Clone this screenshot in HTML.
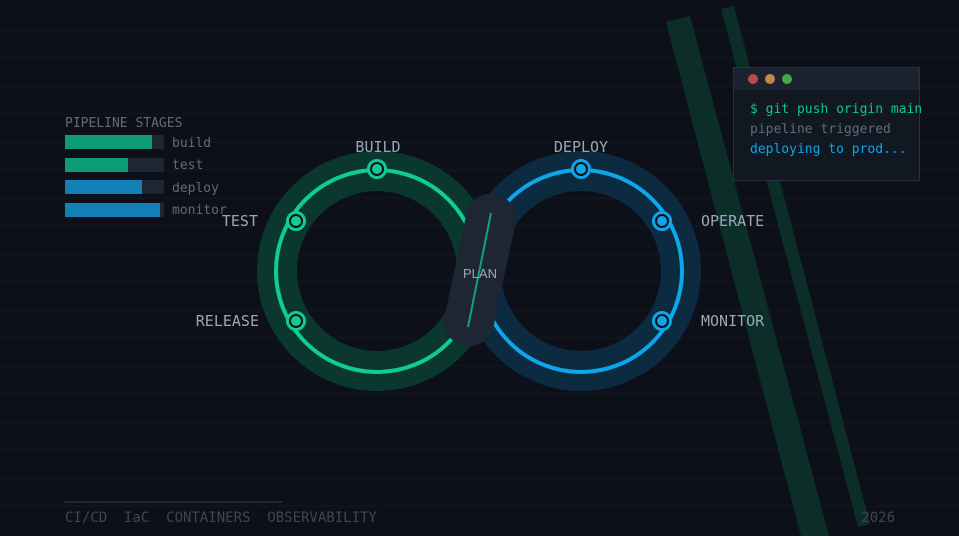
<!DOCTYPE html>
<html><head><meta charset="utf-8"><style>
html,body{margin:0;padding:0;background:#0d1018;}
svg{display:block}
text{white-space:pre}
</style></head><body>
<svg width="959" height="536" viewBox="0 0 959 536" xmlns="http://www.w3.org/2000/svg" xml:space="preserve">
<rect width="959" height="536" fill="#0d1018"/>
<g stroke="#121820" stroke-width="1">
<line x1="0" y1="30" x2="959" y2="30"/><line x1="0" y1="58" x2="959" y2="58"/><line x1="0" y1="86" x2="959" y2="86"/><line x1="0" y1="114" x2="959" y2="114"/><line x1="0" y1="142" x2="959" y2="142"/><line x1="0" y1="170" x2="959" y2="170"/><line x1="0" y1="198" x2="959" y2="198"/><line x1="0" y1="226" x2="959" y2="226"/><line x1="0" y1="254" x2="959" y2="254"/><line x1="0" y1="282" x2="959" y2="282"/><line x1="0" y1="310" x2="959" y2="310"/><line x1="0" y1="338" x2="959" y2="338"/><line x1="0" y1="366" x2="959" y2="366"/><line x1="0" y1="394" x2="959" y2="394"/><line x1="0" y1="422" x2="959" y2="422"/><line x1="0" y1="450" x2="959" y2="450"/><line x1="0" y1="478" x2="959" y2="478"/><line x1="0" y1="506" x2="959" y2="506"/>
</g>
<polygon points="666,22 690,16 829,536 801,536" fill="#0b2f28"/>
<polygon points="721,9 734,6 870,524 858,527" fill="#0b2f28"/>
<circle cx="377" cy="271" r="100" fill="none" stroke="#0b382e" stroke-width="40"/>
<circle cx="581" cy="271" r="100" fill="none" stroke="#0c2a40" stroke-width="40"/>
<circle cx="377" cy="271" r="101" fill="none" stroke="#10cc94" stroke-width="4"/>
<circle cx="581" cy="271" r="101" fill="none" stroke="#0ea5e9" stroke-width="4"/>
<g transform="translate(480,270) rotate(12)">
<rect x="-25" y="-77" width="50" height="154" rx="24" fill="#1e2634"/>
</g>
<line x1="491" y1="213" x2="468" y2="327" stroke="#10a37a" stroke-width="2"/>
<text x="480" y="278" fill="#9aa7b8" font-family="Liberation Sans, sans-serif" font-size="13" text-anchor="middle">PLAN</text>
<g stroke-width="3">
<circle cx="377" cy="169" r="8.5" fill="#0d1018" stroke="#10cc94"/><circle cx="377" cy="169" r="5" fill="#10cc94" stroke="none"/>
<circle cx="296" cy="221" r="8.5" fill="#0d1018" stroke="#10cc94"/><circle cx="296" cy="221" r="5" fill="#10cc94" stroke="none"/>
<circle cx="296" cy="321" r="8.5" fill="#0d1018" stroke="#10cc94"/><circle cx="296" cy="321" r="5" fill="#10cc94" stroke="none"/>
<circle cx="581" cy="169" r="8.5" fill="#0d1018" stroke="#0ea5e9"/><circle cx="581" cy="169" r="5" fill="#0ea5e9" stroke="none"/>
<circle cx="662" cy="221" r="8.5" fill="#0d1018" stroke="#0ea5e9"/><circle cx="662" cy="221" r="5" fill="#0ea5e9" stroke="none"/>
<circle cx="662" cy="321" r="8.5" fill="#0d1018" stroke="#0ea5e9"/><circle cx="662" cy="321" r="5" fill="#0ea5e9" stroke="none"/>
</g>
<g font-family="'DejaVu Sans Mono', 'Liberation Mono', monospace" font-size="15" fill="#9aa7b8">
<text x="378" y="152" text-anchor="middle">BUILD</text>
<text x="258" y="226" text-anchor="end">TEST</text>
<text x="259" y="326" text-anchor="end">RELEASE</text>
<text x="581" y="152" text-anchor="middle">DEPLOY</text>
<text x="701" y="226">OPERATE</text>
<text x="701" y="326">MONITOR</text>
</g>
<g font-family="'DejaVu Sans Mono', 'Liberation Mono', monospace" font-size="13" fill="#5f6b7c">
<text x="65" y="127">PIPELINE STAGES</text>
<text x="172" y="147">build</text>
<text x="172" y="169">test</text>
<text x="172" y="192">deploy</text>
<text x="172" y="214">monitor</text>
</g>
<rect x="65" y="135" width="99" height="14" fill="#1e2634"/><rect x="65" y="135" width="87" height="14" fill="#0e9c78"/>
<rect x="65" y="158" width="99" height="14" fill="#1e2634"/><rect x="65" y="158" width="63" height="14" fill="#0e9c78"/>
<rect x="65" y="180" width="99" height="14" fill="#1e2634"/><rect x="65" y="180" width="77" height="14" fill="#1480b8"/>
<rect x="65" y="203" width="99" height="14" fill="#1e2634"/><rect x="65" y="203" width="95" height="14" fill="#1480b8"/>
<rect x="733.5" y="67.5" width="186" height="113" fill="#111822" stroke="#283140"/>
<rect x="734" y="68" width="185" height="22" fill="#1b2330"/>
<circle cx="753" cy="79" r="5" fill="#b94a4a"/><circle cx="770" cy="79" r="5" fill="#c08a45"/><circle cx="787" cy="79" r="5" fill="#45a845"/>
<g font-family="'DejaVu Sans Mono', 'Liberation Mono', monospace" font-size="13">
<text x="750" y="113" fill="#10c48d">$ git push origin main</text>
<text x="750" y="133" fill="#5f6b7c">pipeline triggered</text>
<text x="750" y="153" fill="#0ea5e9">deploying to prod...</text>
</g>
<line x1="64" y1="502" x2="282" y2="502" stroke="#283140" stroke-width="1.5"/>
<g font-family="'DejaVu Sans Mono', 'Liberation Mono', monospace" font-size="14" fill="#3c4757">
<text x="65" y="522">CI/CD  IaC  CONTAINERS  OBSERVABILITY</text>
<text x="895" y="522" text-anchor="end">2026</text>
</g>
</svg>
</body></html>
